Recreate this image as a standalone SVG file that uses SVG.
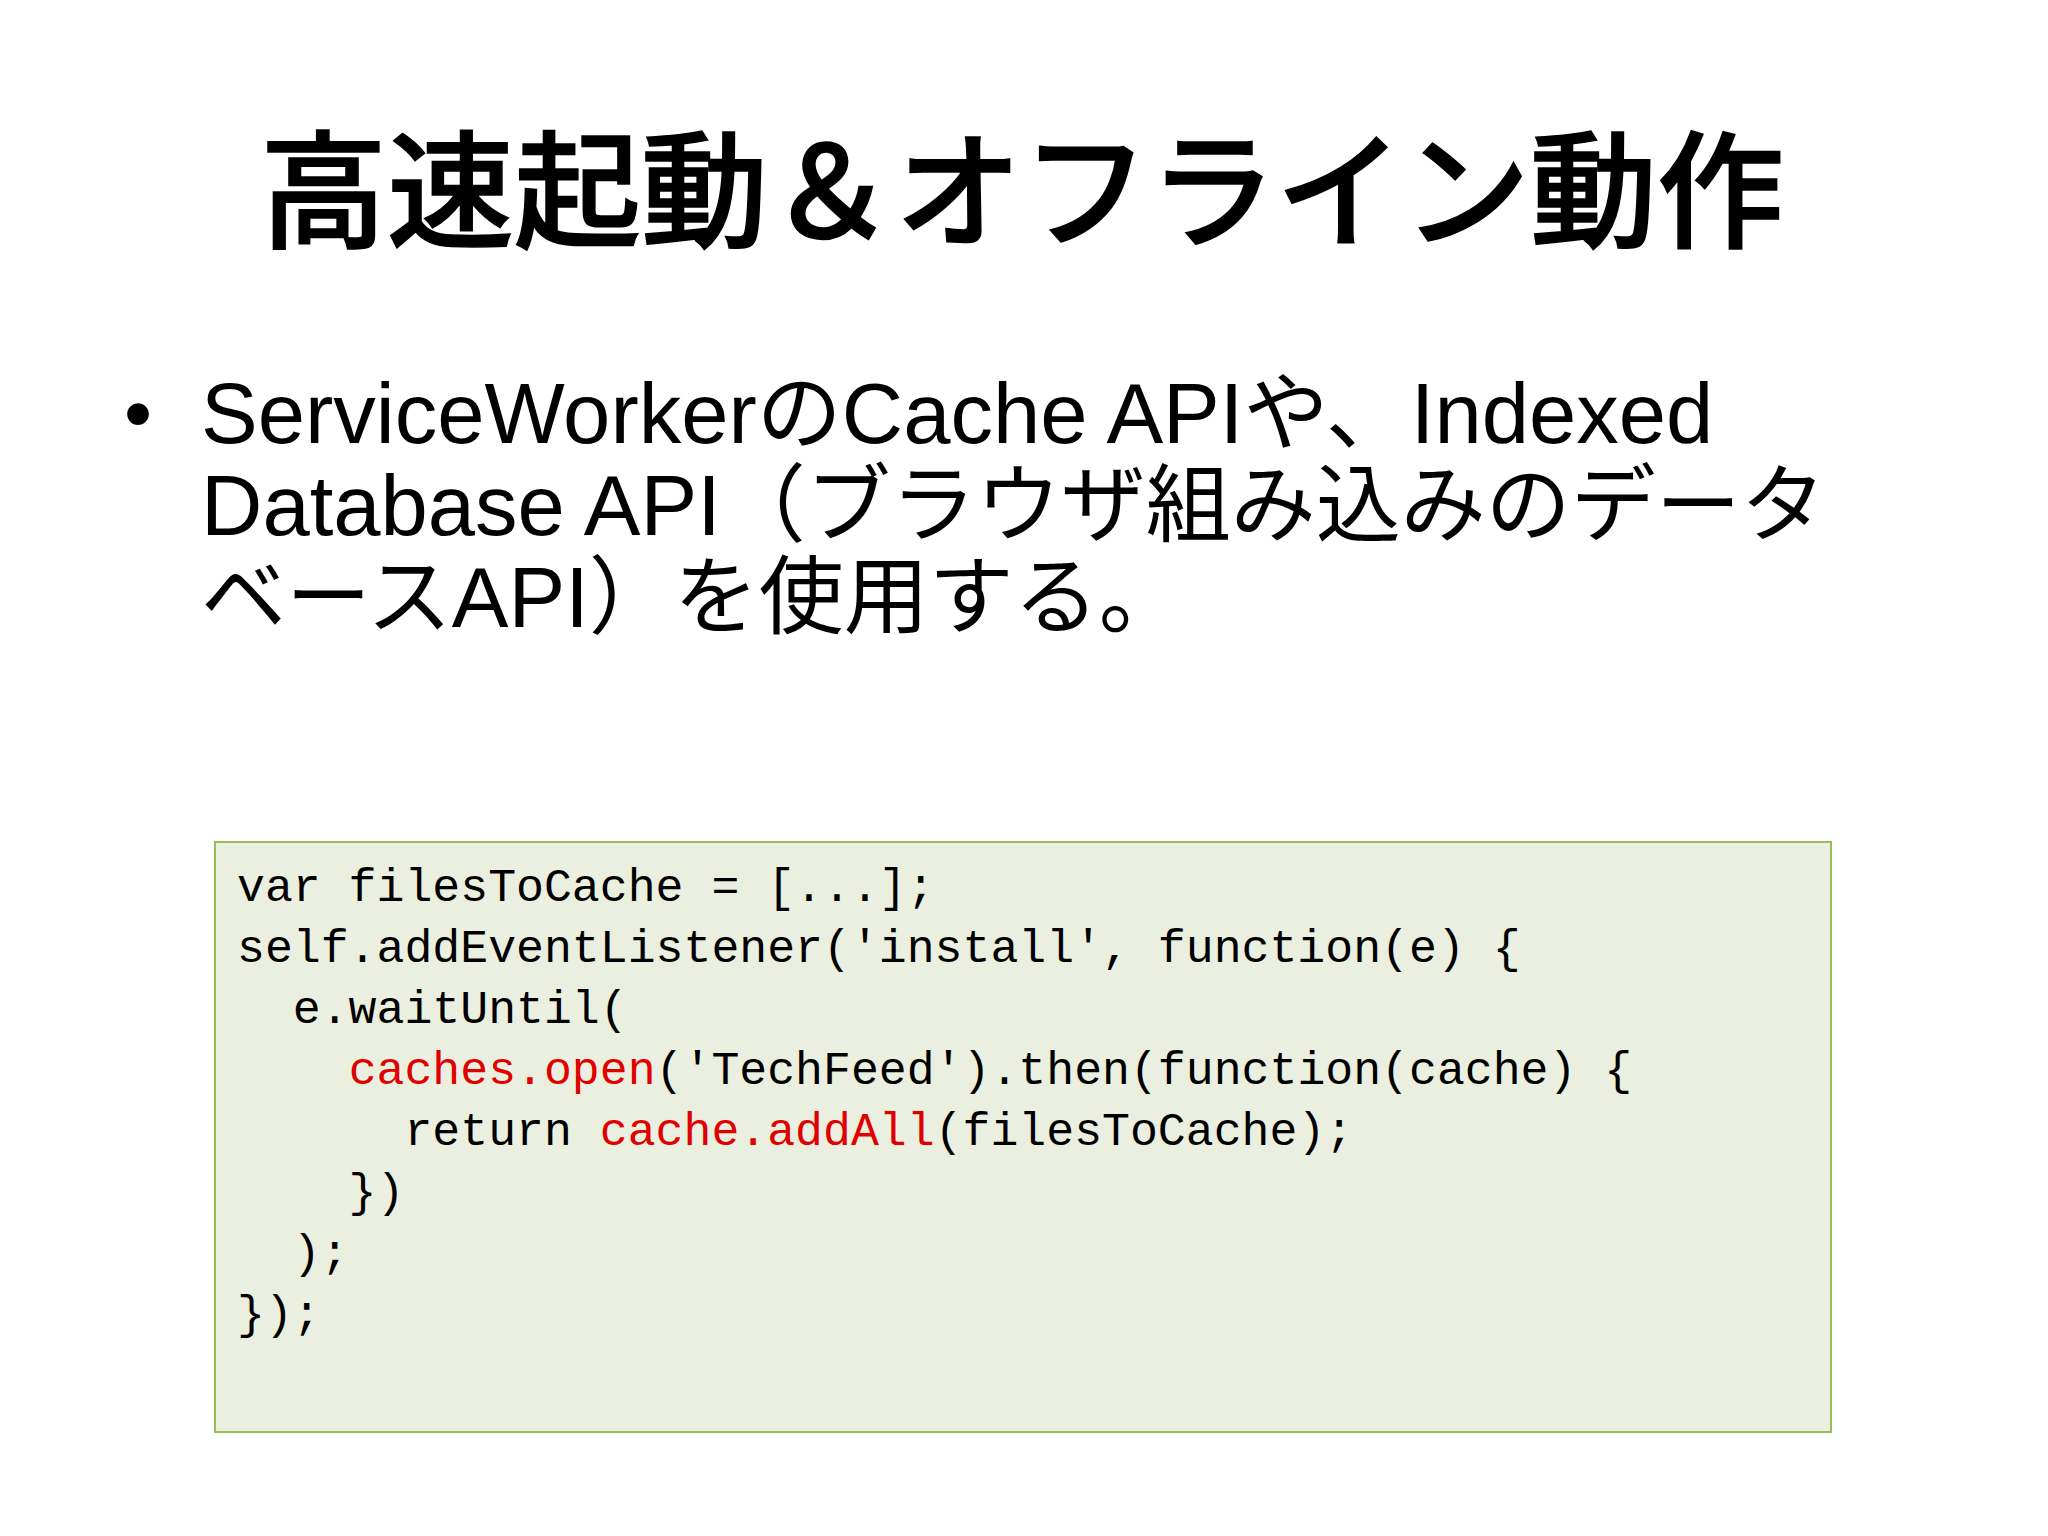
<svg xmlns="http://www.w3.org/2000/svg" width="2048" height="1536" viewBox="0 0 2048 1536">
<style>
.t{font-family:"Liberation Sans","Noto Sans CJK JP",sans-serif;fill:#000}
.c{font-family:"Liberation Mono","DejaVu Sans Mono",monospace;font-size:46.5px;fill:#000;white-space:pre}
.r{fill:#e00000}
</style>
<rect width="2048" height="1536" fill="#fff"/>
<g id="title"><text class="t" x="1022" y="238" font-size="127" font-weight="500" text-anchor="middle" stroke="#000" stroke-width="1.5">高速起動＆オフライン動作</text></g>
<g id="bullet">
<text class="t" x="124" y="441" font-size="80">•</text>
<text class="t" x="201" y="443" font-size="85">ServiceWorkerのCache APIや、Indexed</text>
<text class="t" x="201" y="535" font-size="85">Database API（ブラウザ組み込みのデータ</text>
<text class="t" x="201" y="627" font-size="85">ベースAPI）を使用する。</text>
</g>
<g id="code">
<rect x="215" y="842" width="1616" height="590" fill="#ebefdf" stroke="#9bbb59" stroke-width="2"/>
<text class="c" x="237" y="901">var filesToCache = [...];</text>
<text class="c" x="237" y="962">self.addEventListener('install', function(e) {</text>
<text class="c" x="237" y="1023">  e.waitUntil(</text>
<text class="c" x="237" y="1084">    <tspan class="r">caches.open</tspan>('TechFeed').then(function(cache) {</text>
<text class="c" x="237" y="1145">      return <tspan class="r">cache.addAll</tspan>(filesToCache);</text>
<text class="c" x="237" y="1206">    })</text>
<text class="c" x="237" y="1267">  );</text>
<text class="c" x="237" y="1328">});</text>
</g>
</svg>
